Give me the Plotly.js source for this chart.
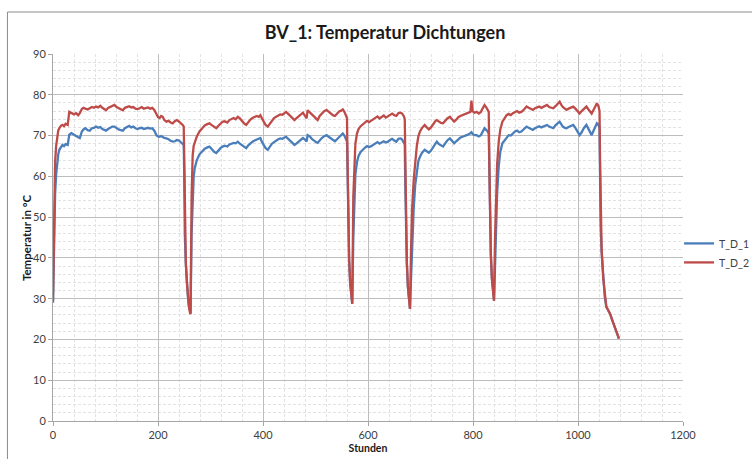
<!DOCTYPE html>
<html>
<head>
<meta charset="utf-8">
<script src="https://cdn.plot.ly/plotly-3.0.1.min.js"></script>
<style>
  html, body { margin: 0; padding: 0; background: #ffffff; }
  #chart { width: 752px; height: 459px; }
</style>
</head>
<body>
<div id="chart"></div>
<script>
// Hours (Stunden)
const hours = [
  0, 1, 2, 3, 4, 6, 8, 10, 12, 15, 18, 21, 24, 28, 31, 35, 40, 44, 48, 51,
  55, 58, 62, 66, 70, 74, 78, 82, 86, 90, 94, 98, 101, 105, 109, 113, 117, 121, 125, 129,
  133, 137, 141, 145, 149, 153, 157, 161, 165, 169, 173, 177, 181, 185, 189, 193, 197, 200, 203, 206,
  209, 212, 216, 220, 224, 228, 232, 236, 240, 244, 247, 249, 250, 251, 253, 255, 257, 259, 261, 262,
  264, 266, 268, 270, 274, 279, 284, 289, 294, 298, 303, 307, 311, 315, 319, 323, 327, 332, 336, 340,
  344, 348, 352, 356, 360, 364, 368, 372, 376, 380, 384, 388, 392, 395, 398, 402, 405, 409, 413, 417,
  421, 425, 429, 433, 437, 441, 444, 448, 452, 456, 460, 464, 468, 472, 476, 480, 483, 485, 489, 493,
  497, 501, 504, 508, 512, 516, 521, 525, 529, 533, 537, 541, 545, 549, 552, 555, 558, 560, 561, 562,
  564, 566, 568, 570,
  572, 574, 576, 579, 582, 586, 590, 594, 598, 602, 606, 610, 614, 618, 622, 626, 630, 634, 638, 642,
  646, 650, 654, 658, 662, 665, 668, 670, 671, 672, 674, 676, 678, 680,
  682, 684, 687, 690, 693, 696, 699, 703, 708, 712, 716, 720, 724, 728, 731, 735, 739, 743, 747, 751,
  756, 760, 764, 768, 772, 776, 780, 784, 788, 792, 795, 797, 799, 803, 807, 811, 815, 819, 822, 825,
  828, 830, 831, 832, 834, 836, 838, 840,
  842, 844, 846, 849, 852, 856, 860, 864, 868, 872, 876, 880, 884, 888, 892, 896, 899, 902, 906, 910,
  914, 918, 922, 926, 930, 934, 938, 941, 945, 949, 953, 957, 961, 965, 968, 971, 975, 978, 982, 986,
  991, 995, 999, 1003, 1007, 1011, 1016, 1020, 1023, 1026, 1030, 1033, 1036, 1039, 1041, 1042, 1043, 1045, 1048, 1051,
  1054, 1057, 1061, 1065, 1070, 1074, 1078
];

// T_D_1 (blue), °C
const tD1 = [
  29.0, 37, 45, 51.5, 55.5, 60.5, 63.5, 65.4, 66.5, 67.2, 67.7, 67.4, 67.9, 67.7, 70.2, 70.6, 70.1, 69.9, 69.6, 69.4,
  71.0, 71.5, 71.8, 71.3, 71.2, 71.8, 71.9, 72.2, 71.9, 72.1, 71.6, 71.3, 71.2, 71.6, 71.9, 72.2, 72.2, 71.8, 71.5, 71.3,
  71.2, 71.8, 72.2, 72.4, 72.0, 72.2, 71.8, 71.6, 71.8, 71.9, 71.6, 71.8, 71.9, 71.7, 71.8, 71.2, 70.1, 69.8, 69.7, 69.9,
  69.6, 69.4, 69.3, 69.1, 68.7, 68.5, 68.6, 68.9, 68.8, 68.3, 67.9, 67.7, 60, 46, 38.5, 33.8, 30.4, 28, 26.6, 26.4,
  46, 56, 60, 62, 64, 65.4, 66, 66.8, 67.1, 67.3, 66.6, 66.0, 65.7, 66.4, 66.9, 67.3, 67.5, 67.3, 67.8, 68.0,
  68.2, 68.1, 68.5, 68.0, 67.6, 67.2, 66.9, 67.6, 68.1, 68.5, 68.8, 69.0, 69.1, 69.4, 68.4, 67.4, 66.9, 66.5, 67.3, 68.0,
  68.4, 68.8, 69.1, 69.3, 69.2, 69.5, 69.7, 69.2, 68.7, 68.1, 67.7, 68.1, 68.6, 69.0, 69.4, 69.0, 68.5, 70.1, 69.8, 69.2,
  68.7, 68.4, 68.2, 68.9, 69.4, 69.8, 70.1, 69.7, 69.3, 68.9, 68.6, 69.1, 69.7, 70.2, 70.5, 70.0, 69.1, 68.5, 62, 49,
  39.5, 33.8, 30.4, 28.8,
  45, 55, 60.5, 63.5, 65, 66, 66.6, 67, 67.4, 67.2, 67.4, 67.8, 68.1, 68.4, 68.0, 68.3, 68.6, 68.3, 68.5, 68.9,
  69.2, 68.8, 68.5, 69.2, 69.3, 69.0, 68.4, 67.8, 58, 46.5, 38.5, 32.8, 29.4, 27.5,
  35, 43, 52, 58, 61.8, 63.8, 64.8, 65.8, 66.5, 66.1, 65.8, 66.3, 67.2, 68.0, 68.5, 67.9, 67.6, 67.3, 68.1, 68.8,
  69.3, 68.7, 68.1, 68.6, 69.1, 69.5, 69.7, 70.0, 70.1, 70.3, 70.5, 70.8, 70.4, 70.1, 70.1, 69.8, 70.1, 71.0, 71.8, 71.4,
  71.0, 70.4, 60, 48, 40.5, 34.8, 31.4, 29.5,
  38, 48, 56, 62.5, 66, 68.1, 68.8, 69.7, 70.1, 70.0, 70.6, 71.0, 71.2, 70.8, 71.0, 71.4, 71.8, 72.2, 71.9, 71.6,
  71.4, 71.8, 72.1, 72.3, 72.0, 72.2, 72.5, 72.6, 72.2, 71.9, 71.8, 72.5, 73.0, 73.4, 72.8, 72.2, 71.9, 71.8, 72.1, 72.4,
  72.6, 71.9, 71.0, 70.1, 70.8, 71.8, 72.6, 71.6, 70.8, 70.1, 71.3, 72.4, 73.0, 72.6, 71.8, 60, 48, 41.5, 34.8, 30.4,
  28.0, 27.3, 26.3, 24.8, 23.1, 21.7, 20.2
];

// T_D_2 (red), °C
const tD2 = [
  29.4, 42, 54, 60, 63.5, 67.5, 70, 71.2, 71.8, 72.4, 72.6, 72.3, 72.9, 72.6, 75.8, 75.6, 75.2, 75.5, 75.0, 75.5,
  76.5, 76.8, 76.6, 76.4, 76.7, 77.0, 76.8, 77.1, 76.9, 77.3, 76.8, 76.4, 76.2, 76.8, 77.1, 77.4, 77.5, 77.0, 76.7, 76.4,
  76.2, 76.8, 77.1, 77.2, 76.9, 77.0, 76.6, 76.5, 76.7, 77.0, 76.6, 76.8, 76.9, 76.6, 76.8, 76.3, 75.0, 74.5, 74.3, 74.8,
  74.6, 73.8, 73.4, 73.6, 73.2, 73.0, 73.5, 73.8, 73.4, 73.0, 72.6, 72.2, 62, 47, 39, 34, 30.5, 28, 26.5, 26.2,
  55, 65, 67.5, 68.5, 69.8, 71, 71.8, 72.5, 72.8, 73.0, 72.5, 72.2, 71.8, 72.4, 73.0, 73.4, 73.5, 73.2, 73.8, 74.0,
  74.3, 74.0, 74.6, 74.2, 73.5, 73.0, 72.6, 73.4, 73.9, 74.3, 74.5, 74.8, 74.6, 75.0, 74.2, 73.2, 72.6, 72.2, 73.0, 73.8,
  74.3, 74.6, 75.0, 75.2, 75.1, 75.5, 75.8, 75.3, 74.8, 74.2, 73.8, 74.3, 74.8, 75.2, 75.6, 74.8, 74.2, 76.2, 75.8, 75.2,
  74.7, 74.2, 73.8, 74.8, 75.4, 75.9, 76.3, 75.8, 75.4, 75.0, 74.8, 75.4, 75.9, 76.1, 76.4, 75.8, 74.8, 74.3, 64, 50,
  40, 34, 30.5, 28.7,
  55, 64, 68, 70.5, 71.6, 72.3, 72.8, 73.2, 73.6, 73.3, 73.6, 74.0, 74.4, 74.7, 74.2, 74.5, 74.9, 74.4, 74.7, 75.1,
  75.4, 75.0, 74.8, 75.5, 75.6, 75.4, 74.8, 74.0, 62, 48, 39, 33, 29.5, 27.5,
  42, 52, 59, 64, 67.5, 69.8, 71.0, 71.9, 72.6, 72.0, 71.5, 72.0, 72.8, 73.5, 73.8, 73.4, 73.1, 73.0, 73.7, 74.2,
  74.6, 74.0, 73.4, 73.9, 74.5, 74.8, 75.0, 75.3, 75.5, 75.6, 75.8, 78.6, 76.0, 75.6, 75.8, 75.4, 75.8, 76.8, 77.5, 77.0,
  76.4, 75.8, 64, 50, 41, 35, 31.5, 29.5,
  45, 56, 63, 68.5, 71.5, 73.4, 74.2, 75.0, 75.3, 75.0, 75.5, 75.8, 76.0, 75.6, 75.8, 76.2, 76.6, 77.1, 76.8, 76.5,
  76.3, 76.7, 77.0, 77.1, 76.8, 77.0, 77.3, 77.5, 77.0, 76.8, 76.7, 77.2, 77.8, 78.3, 77.6, 77.0, 76.6, 76.3, 76.6, 76.9,
  77.1, 76.6, 75.9, 75.4, 76.0, 76.6, 77.1, 76.4, 75.8, 75.4, 76.4, 77.3, 77.9, 77.2, 76.0, 64, 50, 42, 35, 30.5,
  28.0, 27.3, 26.3, 24.8, 23.1, 21.7, 20.2
];

const seriesNames = ['T_D_1', 'T_D_2'];
const seriesColors = ['#4A7EBB', '#BE4B48'];

const fontFam = 'Lato, "Open Sans", sans-serif';

const traces = [
  { x: hours, y: tD1, name: seriesNames[0], type: 'scatter', mode: 'lines',
    line: { color: seriesColors[0], width: 2.3 } },
  { x: hours, y: tD2, name: seriesNames[1], type: 'scatter', mode: 'lines',
    line: { color: seriesColors[1], width: 2.3 } }
];

const layout = {
  width: 752, height: 459,
  margin: { l: 53, r: 69, t: 54, b: 38, autoexpand: false },
  paper_bgcolor: '#ffffff', plot_bgcolor: '#ffffff',
  font: { family: fontFam, color: '#404040' },
  title: {
    text: 'BV_1: Temperatur Dichtungen',
    font: { family: fontFam, size: 18, color: '#1a1a1a', weight: 'bold' },
    xref: 'container', x: 0.512, xanchor: 'center',
    yref: 'container', y: 0.928, yanchor: 'middle'
  },
  xaxis: {
    range: [0, 1200], dtick: 200, tick0: 0,
    showgrid: true, gridcolor: '#bdbdbd', gridwidth: 1,
    minor: { dtick: 40, showgrid: true, gridcolor: '#e2e2e2', griddash: '3px,2px', gridwidth: 1 },
    zeroline: false, showline: true, linecolor: '#a6a6a6', linewidth: 1,
    ticks: 'outside', ticklen: 4, tickcolor: '#a6a6a6',
    tickfont: { family: fontFam, size: 11, color: '#404040' },
    title: { text: 'Stunden', font: { family: fontFam, size: 10.5, color: '#1a1a1a', weight: 'bold' }, standoff: 4 }
  },
  yaxis: {
    range: [0, 90], dtick: 10, tick0: 0,
    showgrid: true, gridcolor: '#bdbdbd', gridwidth: 1,
    minor: { dtick: 2, showgrid: true, gridcolor: '#e2e2e2', griddash: '3px,2px', gridwidth: 1 },
    zeroline: false, showline: true, linecolor: '#a6a6a6', linewidth: 1,
    ticks: 'outside', ticklen: 4, tickcolor: '#a6a6a6',
    tickfont: { family: fontFam, size: 11, color: '#404040' }
  },
  annotations: [
    { text: 'Temperatur in °C', textangle: -90, showarrow: false,
      xref: 'paper', yref: 'paper', x: -0.042, y: 0.5, xanchor: 'center', yanchor: 'middle',
      font: { family: fontFam, size: 11.5, color: '#1a1a1a', weight: 'bold' } }
  ],
  legend: {
    xref: 'container', yref: 'container',
    x: 0.903, xanchor: 'left', y: 0.449, yanchor: 'middle',
    font: { family: fontFam, size: 10.5, color: '#404040' },
    bgcolor: 'rgba(0,0,0,0)', itemwidth: 30
  },
  shapes: [
    { type: 'rect', xref: 'paper', yref: 'paper',
      x0: -0.0723, x1: 1.2, y0: -0.3, y1: 1.1144,
      line: { color: '#8c8c8c', width: 1 }, fillcolor: 'rgba(0,0,0,0)', layer: 'below' }
  ],
  showlegend: true
};

Plotly.newPlot('chart', traces, layout, { displayModeBar: false, staticPlot: true });
</script>
</body>
</html>
